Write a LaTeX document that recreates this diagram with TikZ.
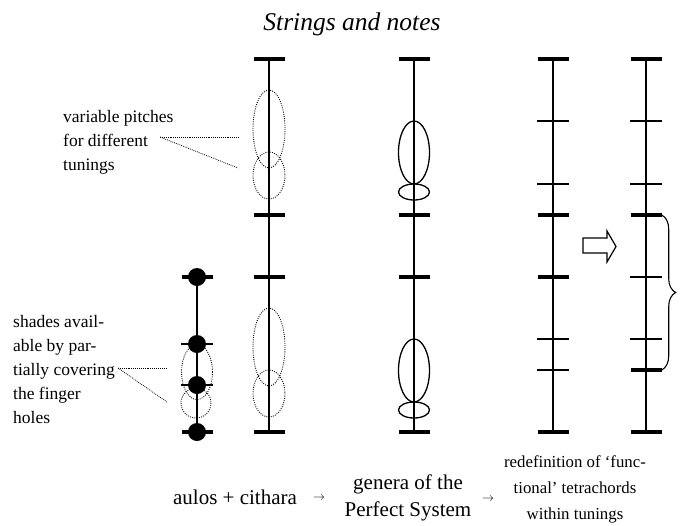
\documentclass[tikz,border=0pt]{standalone}
\usepackage{fontspec}
\setmainfont{Liberation Serif}
\usepackage{tikz}
\usetikzlibrary{calc}
\usetikzlibrary{decorations}
\usetikzlibrary{decorations.pathreplacing}

\newcommand{\sidefont}{\fontsize{17.5}{24}\selectfont}
\newcommand{\capfont}{\fontsize{21}{27}\selectfont}
\newcommand{\smallcapfont}{\fontsize{16.8}{26}\selectfont}

\begin{document}
\begin{tikzpicture}[
  x=1pt,
  y=-1pt
]

  \path[use as bounding box] (0,0) rectangle (687,525);

  \tikzstyle{fixbar}=[rectangle,fill=black,minimum width=31pt,minimum height=4pt,inner sep=0pt]
  \tikzstyle{movbar}=[rectangle,fill=black,minimum width=32pt,minimum height=1.2pt,inner sep=0pt]
  \tikzstyle{hole}=[circle,fill=black,minimum size=18pt,inner sep=0pt]
  \tikzstyle{string}=[line width=1.6pt]
  \tikzstyle{genus}=[line width=1.3pt]
  \tikzstyle{shade}=[line width=0.9pt,dash pattern=on 0.9pt off 1.3pt]
  \tikzstyle{leader}=[line width=0.8pt,dash pattern=on 0.8pt off 1.1pt]
  \tikzstyle{sidelab}=[anchor=north west,align=left,inner sep=0pt,font=\sidefont]
  \tikzstyle{caplab}=[align=center,inner sep=0pt,font=\capfont]
  \tikzstyle{steparrow}=[inner sep=0pt,font=\fontsize{11.5}{11.5}\selectfont]

  % title
  \node[font=\fontsize{25.5}{30}\selectfont\itshape] (title) at (352,24) {Strings and notes};

  % aulos
  \node[fixbar] (aul1) at (197,277) {};
  \node[movbar] (aul2) at (197,344) {};
  \node[movbar] (aul3) at (197,385) {};
  \node[fixbar] (aul4) at (197,432) {};
  \draw[shade] (197,372) ellipse [x radius=15.5, y radius=27.5];
  \draw[shade] (196,403) ellipse [x radius=15, y radius=15];
  \draw[string] (aul1.center) -- (aul4.center);
  \node[hole] (hole1) at (aul1) {};
  \node[hole] (hole2) at (aul2) {};
  \node[hole] (hole3) at (aul3) {};
  \node[hole] (hole4) at (aul4) {};

  % cithara
  \node[fixbar] (cit1) at (269,59) {};
  \node[fixbar] (cit2) at (269,215) {};
  \node[fixbar] (cit3) at (269,277) {};
  \node[fixbar] (cit4) at (269,432) {};
  \draw[shade] (269,129) ellipse [x radius=16, y radius=39];
  \draw[shade] (269,175.5) ellipse [x radius=16, y radius=23.5];
  \draw[shade] (269,347) ellipse [x radius=16, y radius=39];
  \draw[shade] (269,393.5) ellipse [x radius=16, y radius=23.5];
  \draw[string] (cit1.center) -- (cit4.center);

  % genera
  \node[fixbar] (gen1) at (414,59) {};
  \node[fixbar] (gen2) at (414,215) {};
  \node[fixbar] (gen3) at (414,277) {};
  \node[fixbar] (gen4) at (414,432) {};
  \draw[string] (gen1.center) -- (gen4.center);
  \draw[genus] (414,152.5) ellipse [x radius=15.5, y radius=31.5];
  \draw[genus] (414,192) ellipse [x radius=15.5, y radius=8];
  \draw[genus] (414,370.5) ellipse [x radius=15.5, y radius=31.5];
  \draw[genus] (414,410) ellipse [x radius=15.5, y radius=8];

  % tunings
  \node[fixbar] (tunA1) at (553,59) {};
  \node[movbar] (tunA2) at (553,121) {};
  \node[movbar] (tunA3) at (553,184) {};
  \node[fixbar] (tunA4) at (553,215) {};
  \node[fixbar] (tunA5) at (553,277) {};
  \node[movbar] (tunA6) at (553,339) {};
  \node[movbar] (tunA7) at (553,370) {};
  \node[fixbar] (tunA8) at (553,432) {};
  \draw[string] (tunA1.center) -- (tunA8.center);

  \node[fixbar] (tunB1) at (646,59) {};
  \node[movbar] (tunB2) at (646,121) {};
  \node[movbar] (tunB3) at (646,184) {};
  \node[fixbar] (tunB4) at (646,215) {};
  \node[movbar] (tunB5) at (646,277) {};
  \node[movbar] (tunB6) at (646,339) {};
  \node[fixbar] (tunB7) at (646,370) {};
  \node[fixbar] (tunB8) at (646,432) {};
  \draw[string] (tunB1.center) -- (tunB8.center);

  % hollow arrow and brace
  \draw[line width=1.2pt] (583,238) -- (607,238) -- (607,231) -- (616,246.5)
    -- (607,262) -- (607,253) -- (583,253) -- cycle;
  \draw[line width=1.1pt,decorate,decoration={brace,amplitude=14pt,aspect=0.5}]
    (tunB4.east) -- (tunB7.east);

  % side labels
  \node[sidelab] (varlab) at (63,110) {variable pitches\\for different\\tunings};
  \coordinate (varfrom) at (160,137);
  \coordinate (varA) at (238,137);
  \coordinate (varB) at (238,168);
  \draw[leader] (varfrom) -- (varA);
  \draw[leader] (varfrom) -- (varB);

  \node[sidelab] (shadelab) at (13,315) {shades avail-\\able by par-\\tially covering\\the finger\\holes};
  \coordinate (shfrom) at (118,368);
  \coordinate (shA) at (167,368);
  \coordinate (shB) at (167,402);
  \draw[leader] (shfrom) -- (shA);
  \draw[leader] (shfrom) -- (shB);

  % captions
  \node[caplab] (capA) at (235,497) {aulos + cithara};
  \node[steparrow] (stepA) at (319,498) {$\rightarrow$};
  \node[caplab] (capB) at (408,498) {genera of the\\Perfect System};
  \node[steparrow] (stepB) at (488,499) {$\rightarrow$};
  \node[caplab,font=\smallcapfont] (capC) at (575,489) {redefinition of `func-\\tional' tetrachords\\within tunings};

\end{tikzpicture}
\end{document}
